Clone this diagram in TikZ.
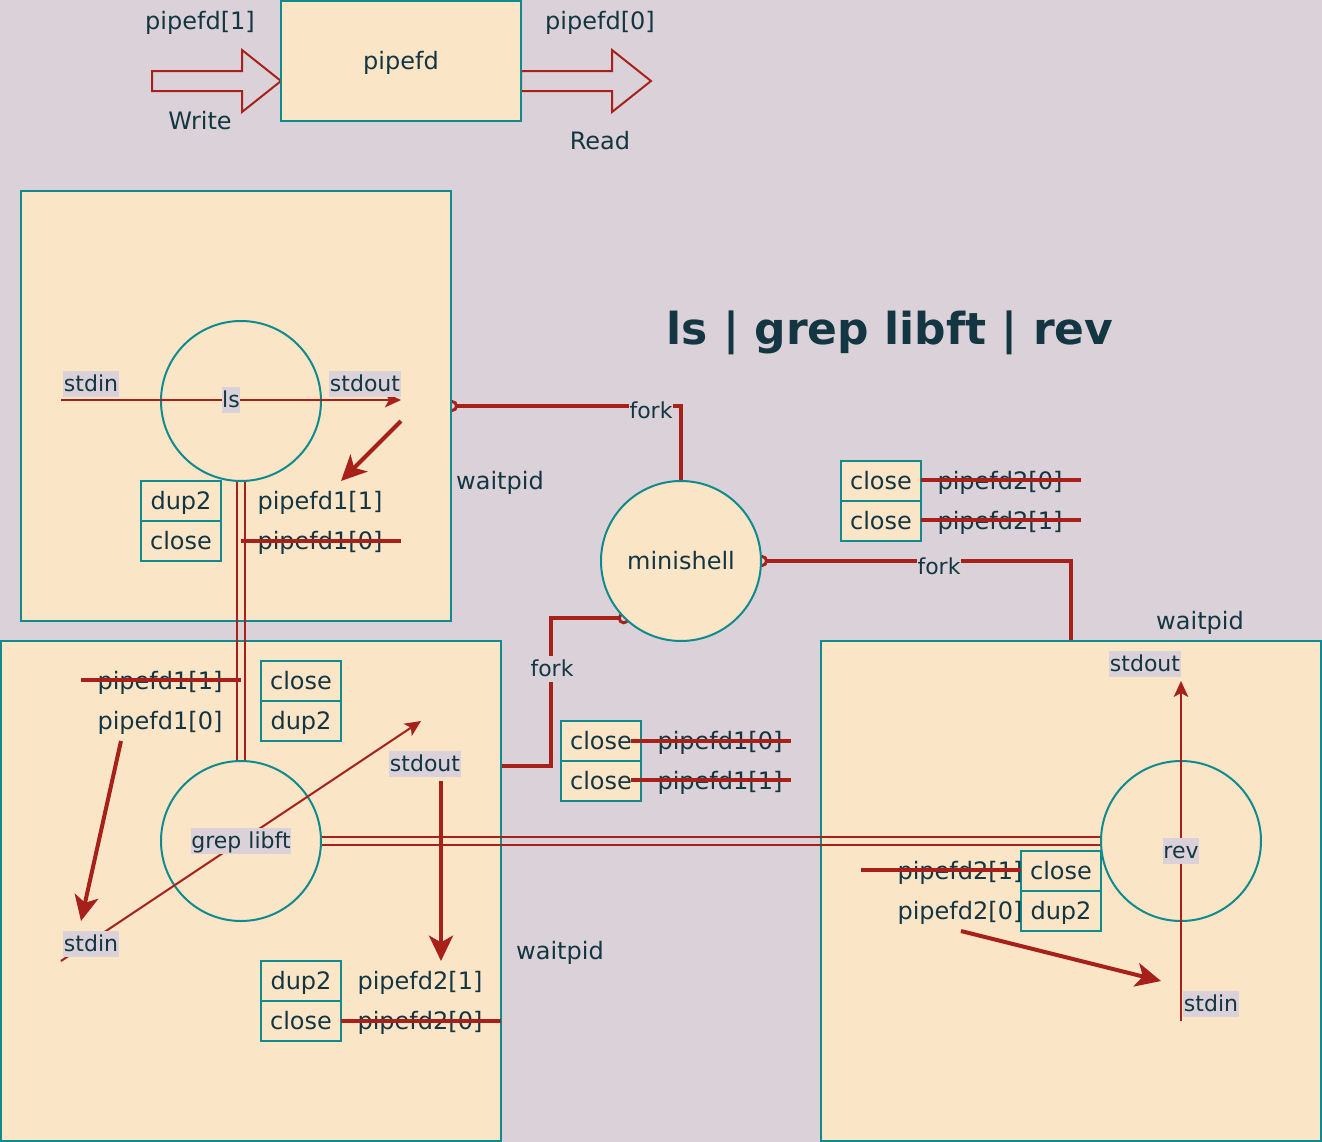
\documentclass[tikz,border=0pt]{standalone}
\usepackage{fontspec}
\setmainfont{DejaVu Sans}
\usetikzlibrary{arrows.meta}

\definecolor{shellbg}{HTML}{DAD2D8}
\definecolor{procfill}{HTML}{FAE5C7}
\definecolor{procline}{HTML}{0F8B8D}
\definecolor{pipered}{HTML}{A8201A}
\definecolor{inkblue}{HTML}{143642}

\pgfdeclarelayer{back}
\pgfsetlayers{back,main}

\begin{document}
\begin{tikzpicture}
      [%%%%%%%%%%%%%%%%%%%%%%%%%%%%%%
          x=0.75pt, y=-0.75pt,
          every node/.style={text=inkblue, font=\fontsize{18}{21}\selectfont,
                             text height=13.5pt, text depth=0.5pt},
          proc/.style={rectangle, draw=procline, fill=procfill, line width=1.5pt, inner sep=0pt},
          task/.style={circle, draw=procline, fill=procfill, line width=1.5pt, minimum size=120pt, inner sep=0pt},
          call/.style={proc, minimum width=60pt, minimum height=30pt},
          tag/.style={fill=shellbg, inner xsep=0.5pt, inner ysep=0.5pt, text height=15pt, text depth=3.5pt,
                      font=\fontsize{16.5}{19}\selectfont},
          flow/.style={draw=pipered, line width=1.5pt, -{Stealth[length=12pt,width=11pt,inset=3pt]}},
          move/.style={draw=pipered, line width=3pt, -{Stealth[length=19pt,width=18pt,inset=5pt]}},
          strike/.style={draw=pipered, line width=3pt},
          link/.style={draw=pipered, line width=1.5pt},
          fork/.style={draw=pipered, line width=3pt, -{Circle[open,length=9pt,width=9pt,line width=2.2pt]},
                       shorten >=-4.5pt},
          hollow/.style={draw=pipered, line width=1.5pt, line join=miter}
      ]%%%%%%%%%%%%%%%%%%%%%%%%%%%%%%

  \begin{pgfonlayer}{back}
    \fill[shellbg] (0,0) rectangle (1322,1142);
  \end{pgfonlayer}
  \useasboundingbox (0,0) rectangle (1322,1142);

  % the pipe legend
  \draw[hollow] (152,71) -- (242,71) -- (242,50) -- (281,81) -- (242,112) -- (242,91) -- (152,91) -- cycle;
  \draw[hollow] (521,71) -- (612,71) -- (612,50) -- (651,81) -- (612,112) -- (612,91) -- (521,91) -- cycle;
  \node[proc, minimum width=180pt, minimum height=90pt] (pipe) at (401,61) {pipefd};
  \node (wend) at (200,21) {pipefd[1]};
  \node (write) at (200,121) {Write};
  \node (rend) at (600,21) {pipefd[0]};
  \node (read) at (600,141) {Read};

  \node[font=\fontsize{33}{38}\selectfont\bfseries, text height=25pt, text depth=1pt] (title) at (890,328) {ls | grep libft | rev};

  % children and parent
  \node[proc, minimum size=322.5pt] (lsbox) at (236,406) {};
  \node[proc, minimum size=375pt] (grepbox) at (251,891) {};
  \node[proc, minimum size=375pt] (revbox) at (1071,891) {};

  \node[task] (ls) at (241,401) {};
  \node[task] (grep) at (241,841) {};
  \node[task] (rev) at (1181,841) {};
  \node[task] (shell) at (681,561) {minishell};

  \foreach \name/\x/\y/\txt in {lsdup/181/501/dup2, lsclose/181/541/close,
                                grepclose/301/681/close, grepdup/301/721/dup2,
                                grepdupout/301/981/dup2, grepcloseout/301/1021/close,
                                revclose/1061/871/close, revdup/1061/911/dup2,
                                shclosea/601/741/close, shcloseb/601/781/close,
                                shclosec/881/481/close, shclosed/881/521/close}
      \node[call] (\name) at (\x,\y) {\txt};

  \foreach \name/\x/\y/\txt in {lsw/320/501/pipefd1[1], lsr/320/541/pipefd1[0],
                                grepw/160/681/pipefd1[1], grepr/160/721/pipefd1[0],
                                grepwout/420/981/pipefd2[1], greprout/420/1021/pipefd2[0],
                                revw/960/871/pipefd2[1], revr/960/911/pipefd2[0],
                                shra/720/741/pipefd1[0], shwa/720/781/pipefd1[1],
                                shrb/1000/481/pipefd2[0], shwb/1000/521/pipefd2[1]}
      \node (\name) at (\x,\y) {\txt};

  \node (wait1) at (500,481) {waitpid};
  \node (wait2) at (560,951) {waitpid};
  \node (wait3) at (1200,621) {waitpid};

  % struck-out ends
  \foreach \i/\xa/\xb/\y in {1/241/401/541, 2/81/241/680, 3/341/501/1021, 4/861/1021/870,
                             5/631/791/741, 6/631/791/780, 7/921/1081/480, 8/921/1081/520}{
      \coordinate (cut\i a) at (\xa,\y);
      \coordinate (cut\i b) at (\xb,\y);
      \draw[strike] (cut\i a) -- (cut\i b);
  }

  % the two pipes
  \foreach \s in {-2.7pt,2.7pt}{
      \draw[link] ([xshift=\s]ls.south) -- ([xshift=\s]grep.north);
      \draw[link] ([yshift=\s]grep.east) -- ([yshift=\s]rev.west);
  }

  % forks, behind the boxes
  \coordinate (grepfork) at (501,766);
  \begin{pgfonlayer}{back}
    \draw[fork] (shell.north) |- (lsbox.east);
    \draw[fork] (revbox.north) |- (shell.east);
    \draw[fork] (grepfork) -- ++(50,0) |- (shell.225);
  \end{pgfonlayer}
  \node[tag] (fork1) at (651,411) {fork};
  \node[tag] (fork2) at (939,567) {fork};
  \node[tag] (fork3) at (552,669) {fork};

  % standard streams
  \coordinate (lsin) at (61,400);     \coordinate (lsout) at (401,400);
  \coordinate (grepin) at (61,961);   \coordinate (grepout) at (421,721);
  \coordinate (revin) at (1181,1021); \coordinate (revout) at (1181,681);
  \draw[flow] (lsin) -- node[tag] (lsname) {ls} (lsout);
  \draw[flow] (grepin) -- node[tag] (grepname) {grep libft} (grepout);
  \draw[flow] (revin) -- node[tag] (revname) {rev} (revout);

  \node[tag] (lsstdin) at (91,384) {stdin};
  \node[tag] (lsstdout) at (365,384) {stdout};
  \node[tag] (grepstdin) at (91,944) {stdin};
  \node[tag] (grepstdout) at (425,764) {stdout};
  \node[tag] (revstdout) at (1145,664) {stdout};
  \node[tag] (revstdin) at (1211,1004) {stdin};

  % dup2 redirections
  \coordinate (lsa) at (401,421);   \coordinate (lsb) at (341,481);
  \coordinate (grepa) at (121,741); \coordinate (grepb) at (81,921);
  \coordinate (grepc) at (441,781); \coordinate (grepd) at (441,961);
  \coordinate (reva) at (961,931);  \coordinate (revb) at (1161,981);
  \draw[move] (lsa) -- (lsb);
  \draw[move] (grepa) -- (grepb);
  \draw[move] (grepc) -- (grepd);
  \draw[move] (reva) -- (revb);

\end{tikzpicture}
\end{document}
